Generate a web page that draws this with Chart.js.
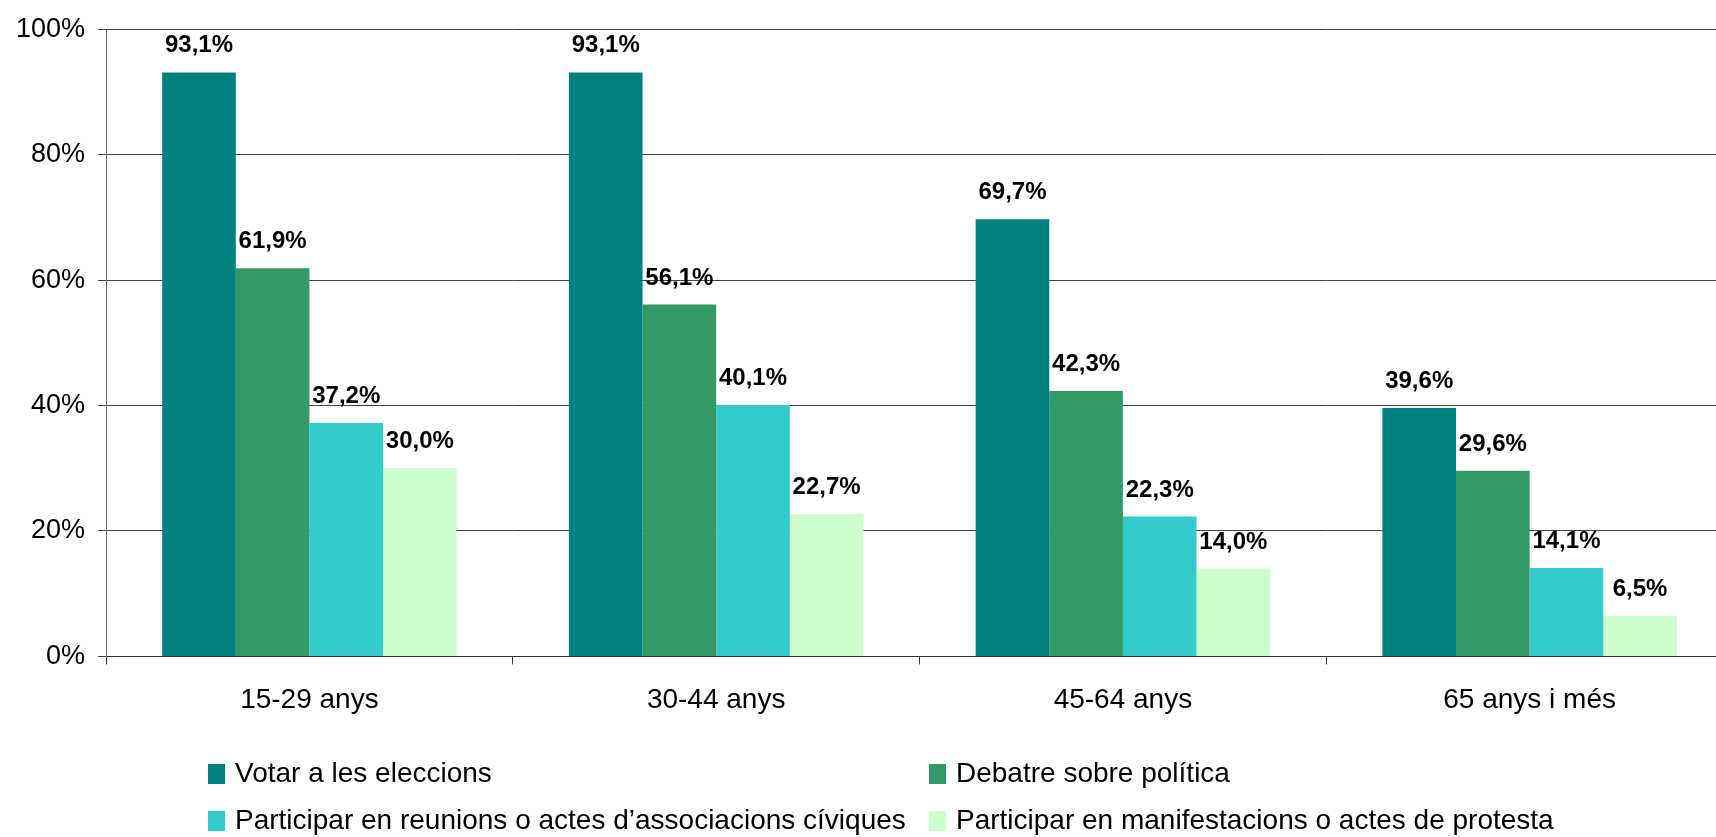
<!DOCTYPE html>
<html>
<head>
<meta charset="utf-8">
<script src="https://cdn.jsdelivr.net/npm/chart.js@4.4.1/dist/chart.umd.min.js"></script>
<style>
  html, body { margin: 0; padding: 0; width: 1716px; height: 837px; overflow: hidden; background: #fff; }
  #wrap { position: relative; width: 1716px; height: 837px; overflow: hidden; }
  #c { position: absolute; left: 0; top: 0; }
  .lg { position: absolute; font-family: "Liberation Sans", Arial, sans-serif; font-size: 28px; line-height: 28px; color: #000; white-space: nowrap; }
  .sw { position: absolute; width: 17px; height: 20px; }
</style>
</head>
<body>
<div id="wrap">
  <canvas id="c" width="1733" height="837"></canvas>
</div>
<script>
const categories = ["15-29 anys", "30-44 anys", "45-64 anys", "65 anys i més"];
const seriesLabels = [
  "Votar a les eleccions",
  "Debatre sobre política",
  "Participar en reunions o actes d’associacions cíviques",
  "Participar en manifestacions o actes de protesta"
];
const votar = [93.1, 93.1, 69.7, 39.6];
const debatre = [61.9, 56.1, 42.3, 29.6];
const reunions = [37.2, 40.1, 22.3, 14.1];
const manifestacions = [30.0, 22.7, 14.0, 6.5];
const yTicks = [0, 20, 40, 60, 80, 100];
const colors = ["#008080", "#339966", "#33CCCC", "#CCFFCC"];

const seriesValues = [votar, debatre, reunions, manifestacions];
const FONT = '"Liberation Sans", Arial, sans-serif';

const valueLabels = {
  id: 'valueLabels',
  afterDatasetsDraw(chart) {
    const ctx = chart.ctx;
    ctx.save();
    ctx.font = 'bold 24px ' + FONT;
    ctx.fillStyle = '#000';
    ctx.textAlign = 'center';
    ctx.textBaseline = 'alphabetic';
    chart.data.datasets.forEach((ds, i) => {
      const meta = chart.getDatasetMeta(i);
      meta.data.forEach((el, j) => {
        const v = ds.data[j];
        const txt = v.toFixed(1).replace('.', ',') + '%';
        ctx.fillText(txt, el.x, el.y - 20);
      });
    });
    ctx.restore();
  }
};

new Chart(document.getElementById('c'), {
  type: 'bar',
  data: {
    labels: categories,
    datasets: seriesLabels.map((lab, i) => ({
      label: lab,
      data: seriesValues[i],
      backgroundColor: colors[i],
      borderWidth: 0,
      categoryPercentage: 0.724,
      barPercentage: 1.0
    }))
  },
  options: {
    responsive: false,
    animation: false,
    devicePixelRatio: 1,
    layout: { padding: { left: 3, top: 26, right: 0, bottom: 101 } },
    plugins: { legend: { display: false }, tooltip: { enabled: false } },
    scales: {
      x: {
        grid: { offset: true, drawOnChartArea: false, drawTicks: true, tickLength: 8, color: '#333' },
        border: { color: '#333', width: 1 },
        ticks: { color: '#000', font: { family: FONT, size: 28 }, padding: 19, maxRotation: 0 }
      },
      y: {
        min: 0, max: 100,
        afterBuildTicks(scale) { scale.ticks = yTicks.map(v => ({ value: v })); },
        grid: { color: '#444', lineWidth: 1, tickLength: 8, drawTicks: true },
        border: { color: '#666', width: 1 },
        ticks: { color: '#000', font: { family: FONT, size: 27 }, padding: 13, callback: v => v + '%' }
      }
    }
  },
  plugins: [valueLabels]
});

// HTML legend built from the series arrays
const wrap = document.getElementById('wrap');
const pos = [
  { sx: 208, tx: 235, top: 759 },
  { sx: 929, tx: 956, top: 759 },
  { sx: 208, tx: 235, top: 806 },
  { sx: 929, tx: 956, top: 806 }
];
seriesLabels.forEach((lab, i) => {
  const p = pos[i];
  const sw = document.createElement('div');
  sw.className = 'sw';
  sw.style.left = p.sx + 'px';
  sw.style.top = (p.top + 5) + 'px';
  sw.style.background = colors[i];
  wrap.appendChild(sw);
  const t = document.createElement('div');
  t.className = 'lg';
  t.style.left = p.tx + 'px';
  t.style.top = p.top + 'px';
  t.textContent = lab;
  wrap.appendChild(t);
});
</script>
</body>
</html>
